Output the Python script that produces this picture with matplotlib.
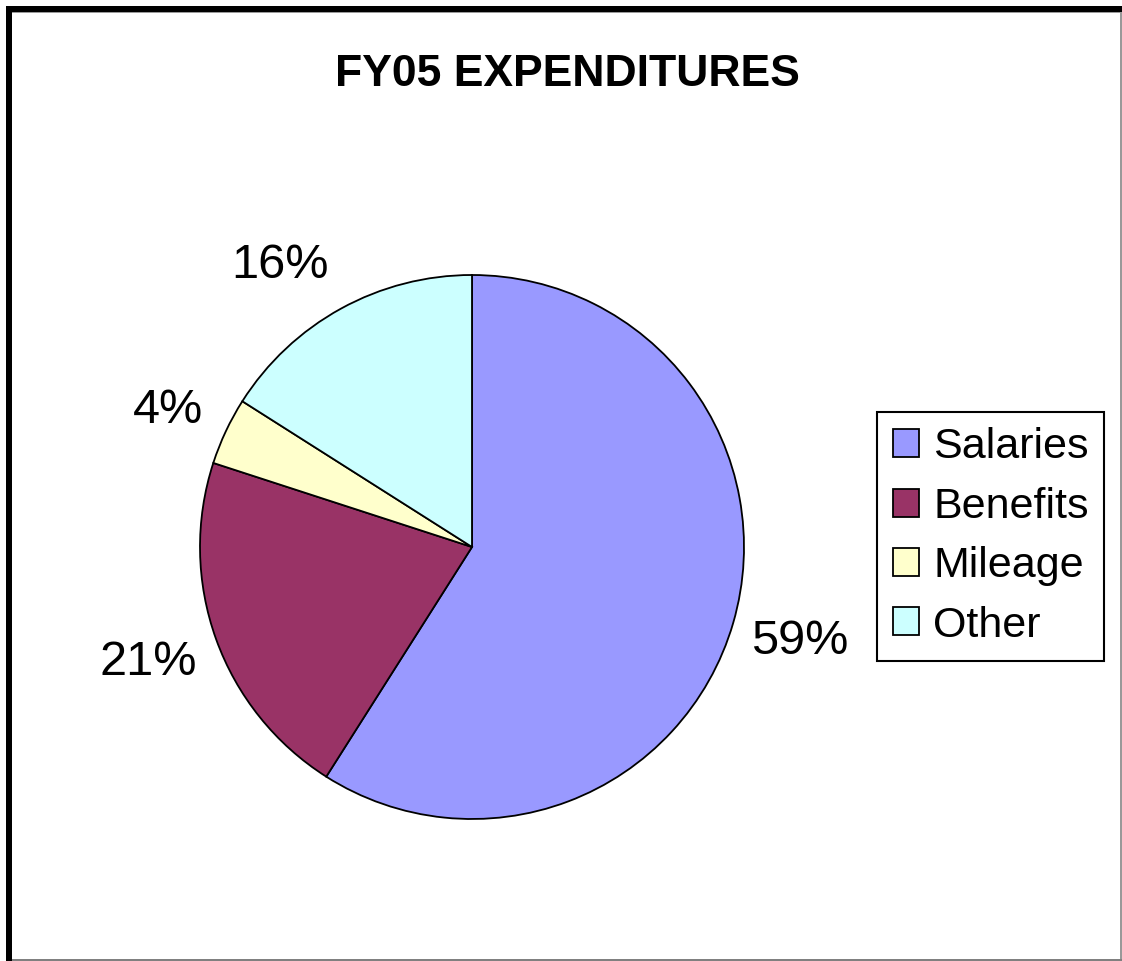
import matplotlib.pyplot as plt
from matplotlib.patches import Rectangle

# Chart data
categories = ['Salaries', 'Benefits', 'Mileage', 'Other']
shares     = [59, 21, 4, 16]
colors     = ['#9999FF', '#993366', '#FFFFCC', '#CCFFFF']

W, H = 1122, 961
plt.rcParams['font.family'] = ['Liberation Sans', 'DejaVu Sans']

fig = plt.figure(figsize=(W / 100, H / 100), dpi=100)
fig.patch.set_facecolor('white')

# Axes in pixel units so the pie can be placed exactly
ax = fig.add_axes([0, 0, 1, 1])

wedges, _, pct_texts = ax.pie(
    shares, colors=colors, startangle=90, counterclock=False,
    center=(472, H - 547), radius=272,
    autopct='%1.0f%%', pctdistance=1.25,
    wedgeprops=dict(edgecolor='black', linewidth=1.3),
    textprops=dict(fontsize=35, color='black'),
    frame=True)
ax.set_xlim(0, W)
ax.set_ylim(0, H)
ax.set_aspect('equal')
ax.axis('off')

# Small nudges (pixels) so the labels sit where Excel put them
nudges = [(1, 0), (-4, 0), (4, -8), (-28, -16)]
for txt, (dx, dy) in zip(pct_texts, nudges):
    x, y = txt.get_position()
    txt.set_position((x + dx, y + dy))

fig.text(567 / W, 1 - 75 / H, 'FY05 EXPENDITURES', ha='center', va='center',
         fontsize=32, fontweight='bold')

leg = ax.legend(wedges, categories, loc='center left',
                bbox_to_anchor=(877 / W, 1 - 536.5 / H), bbox_transform=fig.transFigure,
                fontsize=31, frameon=True, fancybox=False, framealpha=1,
                edgecolor='black', borderaxespad=0, borderpad=0.36,
                handlelength=0.62, handleheight=0.62, handletextpad=0.33,
                labelspacing=0.45)
leg.get_frame().set_linewidth(1.5)

# Outer frame: thick black on top and left, thin grey on right and bottom
fig.add_artist(Rectangle((6 / W, 1 - 12 / H), 1 - 6 / W, 6 / H, transform=fig.transFigure,
                         facecolor='black', edgecolor='none'))
fig.add_artist(Rectangle((6 / W, 0), 6 / W, 1 - 6 / H, transform=fig.transFigure,
                         facecolor='black', edgecolor='none'))
fig.add_artist(Rectangle((12 / W, 1 - 13 / H), 1 - 12 / W, 1 / H, transform=fig.transFigure,
                         facecolor='#999999', edgecolor='none'))
fig.add_artist(Rectangle((1 - 2 / W, 0), 1.5 / W, 1 - 12 / H, transform=fig.transFigure,
                         facecolor='#999999', edgecolor='none'))
fig.add_artist(Rectangle((12 / W, 0.5 / H), 1 - 12 / W, 1.5 / H, transform=fig.transFigure,
                         facecolor='#808080', edgecolor='none'))

fig.savefig('out.png', dpi=100)
